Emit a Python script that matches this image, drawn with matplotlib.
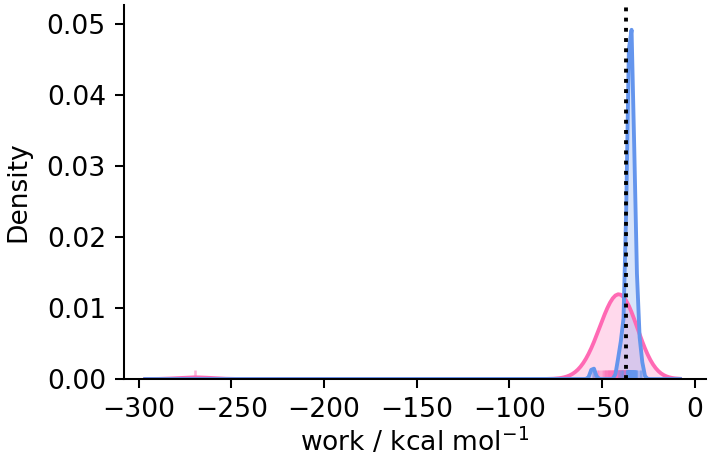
import numpy as np
import matplotlib
matplotlib.use('Agg')
import matplotlib.pyplot as plt
import seaborn as sns

# work values (kcal/mol) per protocol
pink_work = [-269.5,
             -54.6, -53.0, -51.4, -50.2, -49.2, -48.5, -47.9, -47.4, -46.9,
             -46.5, -46.0, -45.6, -45.2, -44.8, -44.4, -44.1, -43.8, -43.5, -43.2,
             -42.9, -42.6, -42.3, -42.1, -41.8, -41.6, -41.3, -41.1, -40.9, -40.7,
             -40.5, -40.3, -40.1, -39.9, -39.7, -39.5, -39.3, -39.1, -38.9, -38.7,
             -38.5, -38.3, -38.1, -37.9, -37.7, -37.5, -37.3, -37.1, -36.9, -36.7,
             -36.5, -36.3, -36.1, -35.9, -35.7, -35.5, -35.3, -35.1, -35.0]
blue_work = [-55.0, -41.0, -40.0, -39.2, -38.5,
             -37.1, -36.8, -36.6, -36.5, -36.3, -36.2, -36.1, -36.0, -35.9, -35.8,
             -35.7, -35.6, -35.5, -35.4, -35.35, -35.25, -35.2,
             -35.1, -35.05, -35.0, -34.9, -34.8, -34.75, -34.7, -34.6, -34.5, -34.4,
             -34.35, -34.3, -34.2, -34.1, -34.0, -33.9, -33.8, -33.7, -33.6, -33.5,
             -33.4, -33.3, -33.1, -33.0, -32.9, -32.7, -32.6, -32.4, -32.2, -32.0,
             -31.8, -31.5, -31.1, -29.8, -29.0]
reference_work = -36.9

# bandwidths and share of all runs for each protocol
pink_bw, pink_share = 9.0, 0.31
blue_bw, blue_share = 1.2, 0.285

pink_col = '#ff69b4'
blue_col = '#6495ed'


def kde(samples, bw, share, grid):
  s = np.asarray(samples)
  d = np.exp(-0.5 * ((grid[:, None] - s[None, :]) / bw) ** 2).sum(1)
  return d / (len(s) * bw * np.sqrt(2 * np.pi)) * share


lo = min(min(pink_work) - 3 * pink_bw, min(blue_work) - 3 * blue_bw)
hi = max(max(pink_work) + 3 * pink_bw, max(blue_work) + 3 * blue_bw)
grid = np.linspace(lo, hi, 200)

plt.rcParams['font.size'] = 10.3

fig, ax = plt.subplots(figsize=(708 / 185, 460 / 185), dpi=185)
fig.subplots_adjust(left=0.175, right=0.997, top=0.989, bottom=0.176)

for work, bw, share, col in [(pink_work, pink_bw, pink_share, pink_col),
                             (blue_work, blue_bw, blue_share, blue_col)]:
  y = kde(work, bw, share, grid)
  ax.fill_between(grid, y, color=col, alpha=0.25, lw=0)
  ax.plot(grid, y, color=col)
  sns.rugplot(x=work, ax=ax, color=col, alpha=0.5, height=0.025)

ax.axvline(reference_work, color='black', ls=':')

ax.set_xlim(-308, 6)
ax.set_ylim(0, 0.0527)
ax.set_xticks([-300, -250, -200, -150, -100, -50, 0])
ax.set_xlabel('work / kcal mol$^{-1}$', labelpad=1.5)
ax.set_ylabel('Density', labelpad=6)
ax.spines['top'].set_visible(False)
ax.spines['right'].set_visible(False)

fig.savefig('out.png')
